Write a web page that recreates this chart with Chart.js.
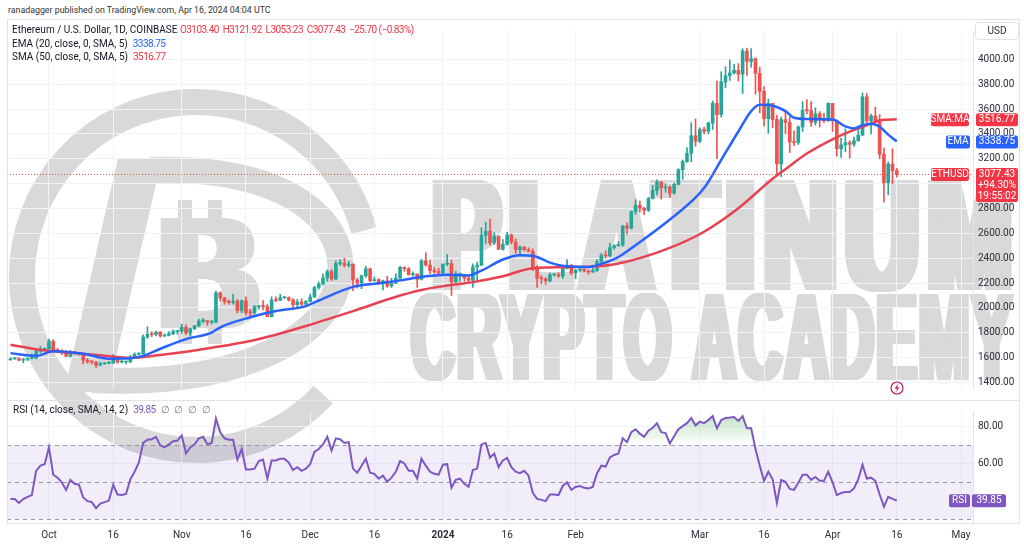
<!DOCTYPE html>
<html>
<head>
<meta charset="utf-8">
<script src="https://cdn.jsdelivr.net/npm/chart.js@4.4.1/dist/chart.umd.min.js"></script>
<style>
  body { margin: 0; background: #fff; width: 1024px; height: 547px; overflow: hidden; font-family: Roboto, "Noto Sans", sans-serif; }
  .pane { position: absolute; left: 0; width: 1024px; }
  #pricePane { top: 20px; height: 380px; }
  #rsiPane { top: 400px; height: 147px; }
  .txt { position: absolute; font-size: 10px; line-height: 12px; color: #131722; white-space: nowrap; z-index: 5; }
  .num { letter-spacing: -0.55px; }
  .red { color: #f23645; }
  .blue { color: #2962ff; }
  .purple { color: #7e57c2; }
  .grey { color: #787b86; }
  .line { position: absolute; background: #e0e3eb; z-index: 4; }
</style>
</head>
<body>

<div class="txt" style="left:8px;top:4px;font-size:8.8px;color:#333;">ranadagger published on TradingView.com, Apr 16, 2024 04:04 UTC</div>
<div class="txt" style="left:12px;top:24px;">Ethereum / U.S. Dollar, 1D, COINBASE <span class="red num">O3103.40 &nbsp;H3121.92 &nbsp;L3053.23 &nbsp;C3077.43 &nbsp;−25.70 (−0.83%)</span></div>
<div class="txt" style="left:12px;top:38px;">EMA (20, close, 0, SMA, 5)&nbsp; <span class="blue num">3338.75</span></div>
<div class="txt" style="left:12px;top:51px;">SMA (50, close, 0, SMA, 5)&nbsp; <span class="red num">3516.77</span></div>
<div class="txt" style="left:13px;top:404px;">RSI (14, close, SMA, 14, 2)&nbsp; <span class="purple num">39.85</span>&nbsp; <span class="grey">∅&nbsp; ∅&nbsp; ∅&nbsp; ∅</span></div>

<div class="line" style="left:7px;top:19px;width:1013px;height:1px;"></div>
<div class="line" style="left:7px;top:19px;width:1px;height:505px;"></div>
<div class="line" style="left:7px;top:400px;width:1013px;height:1px;"></div>
<div class="line" style="left:7px;top:523px;width:1013px;height:1px;"></div>
<div class="line" style="left:1019px;top:19px;width:1px;height:505px;"></div>

<div class="pane" id="pricePane"><canvas id="price"></canvas></div>
<div class="pane" id="rsiPane"><canvas id="rsi"></canvas></div>

<script>
// ---- data: daily candles, 2023-09-22 .. 2024-04-16 (index 0 = Sep 22) ----
const firstOpen = 1583;

const closes = [
  1592,1593,1580,1588,1594,1597,1652,1667,1671,
  1733,1664,1656,1647,1611,1646,1634,1633,1580,1567,1566,1540,1552,1555,1557,1599,1565,1566,1566,1605,1629,1630,1767,1788,1787,1806,1775,1780,1793,1810,1815,
  1845,1800,1833,1857,1895,1898,1886,1887,2122,2080,2052,2045,2055,1980,2058,1962,1960,2010,2013,2011,1930,2063,2062,2082,2084,2064,2027,2049,2030,2052,
  2088,2165,2193,2242,2293,2232,2358,2360,2343,2352,2225,2202,2260,2315,2220,2228,2196,2218,2176,2200,2240,2327,2316,2268,2272,2230,2380,2346,2300,2292,2282,
  2352,2356,2210,2268,2268,2241,2222,2331,2344,2585,2618,2524,2576,2472,2511,2587,2529,2468,2490,2469,2455,2312,2240,2235,2219,2267,2268,2257,2318,2344,2283,
  2305,2310,2297,2290,2301,2374,2424,2420,2486,2500,2507,2660,2642,2776,2826,2803,2786,2881,2945,3014,2966,2971,2923,2994,3112,3178,3243,3385,3340,
  3434,3421,3487,3645,3556,3817,3868,3890,3911,3880,4067,3982,4005,3886,3742,3522,3645,3516,3159,3515,3492,3335,3331,3455,3590,3587,3492,3562,3509,3506,3645,
  3505,3280,3311,3330,3317,3345,3390,3698,3505,3545,3504,3237,3007,3157,3103.4,3077.43
];

const highs = [
  1600,1598,1601,1594,1598,1630,1665,1690,1680,
  1750,1745,1674,1665,1660,1660,1650,1640,1635,1595,1575,1568,1565,1562,1570,1625,1605,1580,1572,1620,1640,1640,1785,1850,1810,1815,1810,1790,1810,1825,1820,
  1870,1865,1838,1860,1910,1915,1900,1900,2135,2130,2085,2065,2110,2070,2065,2090,1990,2020,2020,2060,2030,2090,2090,2110,2090,2090,2075,2070,2075,2060,
  2110,2175,2210,2275,2305,2310,2380,2390,2400,2375,2355,2240,2265,2335,2320,2250,2235,2225,2255,2240,2275,2335,2330,2325,2290,2275,2390,2445,2385,2325,2320,
  2355,2430,2385,2295,2280,2270,2260,2355,2370,2645,2690,2715,2605,2580,2550,2610,2595,2555,2500,2495,2485,2475,2340,2260,2245,2280,2275,2285,2325,2390,2350,
  2310,2325,2315,2305,2345,2390,2440,2460,2520,2505,2535,2665,2685,2780,2870,2860,2810,2890,2985,3030,3015,3000,2985,3005,3120,3190,3290,3490,3520,
  3450,3455,3495,3665,3825,3900,3940,3995,3960,3965,4085,4090,4085,4010,3935,3780,3680,3645,3550,3535,3590,3540,3425,3465,3660,3675,3660,3610,3580,3565,3650,
  3645,3510,3365,3440,3345,3375,3455,3730,3725,3560,3615,3555,3285,3175,3280,3121.92
];

const lows = [
  1580,1586,1576,1560,1575,1590,1590,1640,1660,
  1668,1650,1640,1625,1610,1605,1628,1620,1550,1555,1550,1522,1535,1547,1550,1555,1555,1558,1550,1560,1600,1620,1630,1755,1770,1775,1765,1770,1775,1785,1790,
  1795,1785,1775,1825,1850,1880,1860,1870,1880,2055,2030,2030,2030,1960,1960,1940,1930,1950,1990,1985,1930,1930,2050,2060,2075,2055,1990,2010,2020,2030,
  2050,2085,2150,2185,2215,2220,2230,2340,2330,2330,2140,2160,2155,2245,2210,2215,2190,2145,2165,2165,2195,2230,2295,2265,2255,2165,2225,2335,2275,2280,2265,
  2265,2340,2100,2205,2215,2215,2210,2165,2220,2340,2520,2505,2510,2470,2465,2505,2515,2440,2420,2460,2450,2300,2165,2195,2190,2210,2255,2245,2235,2315,2265,
  2235,2290,2290,2270,2285,2295,2355,2405,2410,2470,2495,2495,2595,2635,2750,2770,2750,2775,2875,2910,2875,2930,2890,2915,2990,3035,3170,3175,3300,
  3330,3400,3400,3435,3200,3535,3770,3830,3880,3825,3725,3870,3935,3720,3570,3465,3405,3450,3060,3055,3400,3250,3305,3315,3420,3560,3460,3470,3455,3490,3500,
  3420,3220,3210,3255,3205,3300,3340,3385,3490,3400,3490,3200,2850,2910,3000,3053.23
];

// EMA 20 / SMA 50 at these day indexes
const emaDays = [0,6,10,17,23,28,31,35,41,47,49,56,62,69,72,80,86,91,97,102,107,110,115,119,122,126,130,135,138,142,146,154,162,166,170,173,175,178,181,183,186,192,195,197,199,201,203,205,207];
const emaValues = [1637,1615,1652,1632,1592,1595,1615,1672,1750,1802,1845,1925,1975,2015,2060,2170,2198,2222,2255,2268,2262,2300,2390,2425,2420,2365,2335,2330,2355,2410,2505,2711,2964,3191,3419,3583,3634,3627,3583,3530,3520,3515,3460,3444,3470,3482,3457,3394,3338.75];

const smaDays = [0,6,10,17,23,28,35,41,47,56,62,69,80,91,96,102,108,115,122,135,142,154,162,170,178,181,186,192,197,201,203,207];
const smaValues = [1705,1668,1652,1632,1612,1600,1622,1648,1680,1735,1785,1855,1975,2100,2145,2180,2208,2255,2320,2332,2358,2484,2613,2802,3040,3116,3242,3356,3432,3482,3510,3516.77];

// RSI(14), one value per day
const rsiValues = [
  40.7,40.7,38.6,40.7,41.9,42.9,56,58.8,59.6,
  68.7,53.9,52.3,49.8,45.7,51.1,49,48.5,41.6,39.6,39.1,35.8,38.3,39.1,39.9,48.5,43.2,42.9,43.5,51.4,55.5,60.5,71.1,72.8,73.1,74.4,69.8,68.7,70.3,72,72.4,
  75.2,65.4,68.7,70.3,73.6,74.4,70.3,71.1,84.3,76.9,73.6,72.8,72.8,62.1,67.8,56.7,56.7,57.2,61.3,62.1,51.8,61.6,61.6,62.6,62.6,60.5,56.4,58,56,57.2,
  59.6,66.2,67.8,70.3,74.4,67,73.6,73.1,71.1,71.5,57.2,55,58.8,62.6,55,54.4,51.8,53.4,50.1,52.3,55.5,61.3,60,56,56,51.8,62.6,58.8,55.5,54.4,53.9,
  59.3,59.6,46.8,51.1,51.8,49,47.3,56.4,57.2,70.3,71.1,63.2,65.4,58,61.6,63,58,55.5,54.7,56,53.4,44,40.8,40.3,39.6,43.2,43.2,42.9,47.8,49.8,45.7,
  47.3,47.8,46.8,46.5,47.3,54.7,58.8,58.3,63.3,64.6,65.4,73.6,71.5,76.9,78.5,76.1,74.4,77.7,79.3,81.8,76.9,76.4,70.8,74.7,78.5,80.2,81.8,84.6,80.6,
  82.6,81.8,83.5,85.6,79,83.5,84.6,84.8,85.1,83,85.6,79,79,67.8,58.8,50.6,55.5,51.4,38.6,51.1,50.1,46.2,45.7,49.5,53.9,53.9,51.1,52.7,50.6,50.6,55.5,
  49.8,42.9,44,44.5,44.5,46.5,51.4,59.3,51.8,52.3,50.6,43.2,36.6,41.9,40.8,39.85
];

const tickDays = [9,24,40,55,70,85,101,116,132,161,176,192,207,222];
const tickLabels = ["Oct","16","Nov","16","Dec","16","2024","16","Feb","Mar","16","Apr","16","May"];

const lastClose = 3077.43, emaLast = 3338.75, smaLast = 3516.77;

// ---- styling ----
const UP = '#26a69a', DOWN = '#ef5350';
const GRID = '#f0f3fa', AXIS_TXT = '#2a2e39';
const WM = '#d9d9d9';
const X_MIN = -0.8, X_MAX = 224.8;

Chart.defaults.font.family = 'Roboto';

const opens = closes.map((c, i) => i ? closes[i - 1] : firstOpen); // daily open = prior close
const candleColors = closes.map((c, i) => c >= opens[i] ? UP : DOWN);

/* ========================================
   WATERMARK (page coords)
======================================== */
// heavy condensed lettering: fit text in a box and fatten it sideways
function fitText(ctx, text, x, top, w, h, spacing, bold) {
  ctx.save();
  ctx.font = 'bold 100px "Liberation Sans"';
  if ('letterSpacing' in ctx) ctx.letterSpacing = spacing + 'px';
  ctx.textAlign = 'left';
  ctx.textBaseline = 'alphabetic';
  const m = ctx.measureText(text);
  const tw = m.actualBoundingBoxRight + m.actualBoundingBoxLeft + bold;
  const th = m.actualBoundingBoxAscent;
  ctx.translate(x, top + h);
  ctx.scale(w / tw, h / th);
  for (let dx = 0; dx <= bold; dx += 1) ctx.fillText(text, m.actualBoundingBoxLeft + dx, 0);
  ctx.restore();
}

function drawWatermark(chart, paneTop) {
  const ctx = chart.ctx;
  ctx.save();
  ctx.beginPath();
  ctx.rect(7, 0, 1013, chart.height);
  ctx.clip();
  ctx.translate(0, -paneTop);
  ctx.fillStyle = WM;
  ctx.strokeStyle = WM;

  ctx.lineWidth = 26;
  ctx.beginPath();
  ctx.arc(196, 276, 174, 0.75, 6.02);
  ctx.stroke();

  ctx.beginPath();
  ctx.moveTo(118, 158); ctx.lineTo(162, 158); ctx.lineTo(108, 392); ctx.lineTo(64, 392);
  ctx.closePath();
  ctx.fill();

  ctx.lineWidth = 26;
  ctx.beginPath();
  ctx.moveTo(150, 170);
  ctx.bezierCurveTo(420, 160, 405, 395, 92, 380);
  ctx.stroke();

  fitText(ctx, 'B', 160, 218, 100, 110, 0, 14);
  ctx.fillRect(178, 200, 14, 22);
  ctx.fillRect(208, 200, 14, 22);
  ctx.fillRect(178, 324, 14, 20);
  ctx.fillRect(208, 324, 14, 20);

  fitText(ctx, 'PLATINUM', 432, 178, 580, 112, 10, 14);
  fitText(ctx, 'CRYPTO ACADEMY', 410, 293, 605, 87, 4, 12);
  ctx.restore();
}

function tag(ctx, x, y, w, h, bg, lines) {
  ctx.fillStyle = bg;
  ctx.beginPath();
  ctx.roundRect(x, y, w, h, 2);
  ctx.fill();
  ctx.fillStyle = '#fff';
  ctx.font = '10px Roboto';
  ctx.textAlign = 'center';
  ctx.textBaseline = 'middle';
  lines.forEach((t, k) => ctx.fillText(t, x + w / 2, y + 6.5 + k * 11));
}

/* ========================================
   PRICE PANE
======================================== */
const pricePlugin = {
  id: 'priceExtras',
  beforeDraw(chart) { drawWatermark(chart, 20); },
  afterDatasetsDraw(chart) {
    const { ctx, chartArea: a, scales: { y } } = chart;
    const py = Math.round(y.getPixelForValue(lastClose)) + 0.5;
    ctx.save();
    ctx.strokeStyle = DOWN;
    ctx.lineWidth = 1;
    ctx.setLineDash([1, 2]);
    ctx.beginPath();
    ctx.moveTo(a.left, py); ctx.lineTo(a.right, py);
    ctx.stroke();
    ctx.restore();
  },
  afterDraw(chart) {
    const { ctx, scales: { y } } = chart;
    ctx.save();
    // USD box
    ctx.fillStyle = '#fff';
    ctx.strokeStyle = '#e0e3eb';
    ctx.beginPath(); ctx.roundRect(975.5, 2.5, 43, 17, 3); ctx.fill(); ctx.stroke();
    ctx.fillStyle = AXIS_TXT;
    ctx.font = '10px Roboto'; ctx.textAlign = 'center'; ctx.textBaseline = 'middle';
    ctx.fillText('USD', 997, 11.5);

    const ys = y.getPixelForValue(smaLast);
    tag(ctx, 931, ys - 6, 38, 13, '#f23645', ['SMA:MA']);
    tag(ctx, 976, ys - 6, 42, 13, '#f23645', [smaLast.toFixed(2)]);
    const ye = y.getPixelForValue(emaLast);
    tag(ctx, 946, ye - 6, 24, 13, '#2962ff', ['EMA']);
    tag(ctx, 976, ye - 6, 42, 13, '#2962ff', [emaLast.toFixed(2)]);
    const yp = y.getPixelForValue(lastClose);
    tag(ctx, 931, yp - 6, 38, 13, '#f23645', ['ETHUSD']);
    tag(ctx, 976, yp - 6, 42, 34, '#f23645', [lastClose.toFixed(2), '+94.30%', '19:55:02']);

    // events icon
    ctx.strokeStyle = '#c2185b';
    ctx.lineWidth = 1.2;
    ctx.beginPath(); ctx.arc(897, 368, 6, 0, Math.PI * 2); ctx.stroke();
    ctx.fillStyle = '#c2185b';
    ctx.beginPath();
    ctx.moveTo(898.5, 363.5); ctx.lineTo(894.5, 368.5); ctx.lineTo(897, 368.5);
    ctx.lineTo(895.5, 372.5); ctx.lineTo(899.5, 367.2); ctx.lineTo(897, 367.2);
    ctx.closePath(); ctx.fill();
    ctx.restore();
  }
};

new Chart(document.getElementById('price'), {
  type: 'bar',
  data: {
    datasets: [
      {
        type: 'line', label: 'EMA 20',
        data: emaDays.map((d, k) => ({ x: d, y: emaValues[k] })),
        borderColor: '#2962ff', borderWidth: 2.5, pointRadius: 0,
        cubicInterpolationMode: 'monotone', order: 0
      },
      {
        type: 'line', label: 'SMA 50',
        data: smaDays.map((d, k) => ({ x: d, y: smaValues[k] })),
        borderColor: '#e8414f', borderWidth: 2.5, pointRadius: 0,
        cubicInterpolationMode: 'monotone', order: 0
      },
      {
        label: 'body',
        data: closes.map((c, i) => ({ x: i, y: [opens[i], c] })),
        backgroundColor: candleColors, barThickness: 3, minBarLength: 1,
        grouped: false, order: 1
      },
      {
        label: 'wick',
        data: closes.map((c, i) => ({ x: i, y: [lows[i], highs[i]] })),
        backgroundColor: candleColors, barThickness: 1,
        grouped: false, order: 2
      }
    ]
  },
  options: {
    responsive: true,
    maintainAspectRatio: false,
    animation: false,
    layout: { padding: { left: 7, right: 0, top: 0, bottom: 0 } },
    plugins: { legend: { display: false }, tooltip: { enabled: false } },
    scales: {
      x: {
        type: 'linear', min: X_MIN, max: X_MAX, offset: false,
        afterBuildTicks: s => { s.ticks = tickDays.map(v => ({ value: v })); },
        ticks: { display: false },
        grid: { color: GRID, drawTicks: false, offset: false },
        border: { display: false },
        afterFit: s => { s.height = 0; }
      },
      y: {
        position: 'right', min: 1348.5, max: 4227.3,
        ticks: {
          stepSize: 200, includeBounds: false, padding: 5,
          color: AXIS_TXT, font: { size: 10 },
          callback: v => v > 4100 ? null : v.toFixed(2)
        },
        grid: { color: GRID, drawTicks: false },
        border: { display: true, color: '#e0e3eb' },
        afterFit: s => { s.width = 51; }
      }
    }
  },
  plugins: [pricePlugin]
});

/* ========================================
   RSI PANE
======================================== */
const rsiPlugin = {
  id: 'rsiExtras',
  beforeDraw(chart) { drawWatermark(chart, 400); },
  beforeDatasetsDraw(chart) {
    const { ctx, chartArea: a, scales: { y } } = chart;
    const y70 = y.getPixelForValue(70), y50 = y.getPixelForValue(50), y30 = y.getPixelForValue(30);
    ctx.save();
    ctx.fillStyle = 'rgba(126,87,194,0.1)';
    ctx.fillRect(a.left, y70, a.right - a.left, y30 - y70);
    ctx.strokeStyle = '#9598a1';
    ctx.lineWidth = 1;
    ctx.setLineDash([4, 4]);
    [y70, y50, y30].forEach(v => {
      const p = Math.round(v) + 0.5;
      ctx.beginPath(); ctx.moveTo(a.left, p); ctx.lineTo(a.right, p); ctx.stroke();
    });
    ctx.restore();
  },
  afterDraw(chart) {
    const { ctx, scales: { y } } = chart;
    const yr = y.getPixelForValue(39.85);
    ctx.save();
    tag(ctx, 949, yr - 6.5, 21, 13, '#7e57c2', ['RSI']);
    tag(ctx, 972, yr - 6.5, 34, 13, '#7e57c2', ['39.85']);
    ctx.restore();
  }
};

const rsiChart = new Chart(document.getElementById('rsi'), {
  type: 'line',
  data: {
    datasets: [{
      label: 'RSI',
      data: rsiValues.map((v, i) => ({ x: i, y: v })),
      borderColor: '#7e57c2', borderWidth: 2, pointRadius: 0, tension: 0,
      fill: { target: { value: 70 }, above: 'rgba(76,175,80,0.25)', below: 'rgba(0,0,0,0)' }
    }]
  },
  options: {
    responsive: true,
    maintainAspectRatio: false,
    animation: false,
    layout: { padding: { left: 7, right: 0, top: 0, bottom: 0 } },
    plugins: { legend: { display: false }, tooltip: { enabled: false } },
    scales: {
      x: {
        type: 'linear', min: X_MIN, max: X_MAX, offset: false,
        afterBuildTicks: s => { s.ticks = tickDays.map(v => ({ value: v })); },
        ticks: {
          autoSkip: false, maxRotation: 0, padding: 6, color: AXIS_TXT,
          font: c => ({ size: 10, weight: c.tick && c.tick.value === 101 ? 'bold' : 'normal' }),
          callback: v => tickLabels[tickDays.indexOf(v)]
        },
        grid: { color: GRID, drawTicks: false, offset: false },
        border: { display: false },
        afterFit: s => { s.height = 24; }
      },
      y: {
        position: 'right', min: 27.78, max: 88.37,
        ticks: {
          stepSize: 20, includeBounds: false, padding: 5,
          color: AXIS_TXT, font: { size: 10 },
          callback: v => v === 40 ? null : v.toFixed(2)
        },
        grid: { color: GRID, drawTicks: false },
        border: { display: true, color: '#e0e3eb' },
        afterFit: s => { s.width = 51; }
      }
    }
  },
  plugins: [rsiPlugin]
});

// overbought gradient (green fading to the 70 line)
{
  const y = rsiChart.scales.y;
  const g = rsiChart.ctx.createLinearGradient(0, y.getPixelForValue(100), 0, y.getPixelForValue(70));
  g.addColorStop(0, 'rgba(76,175,80,0.65)');
  g.addColorStop(1, 'rgba(76,175,80,0)');
  rsiChart.data.datasets[0].fill = { target: { value: 70 }, above: g, below: 'rgba(0,0,0,0)' };
  rsiChart.update('none');
}
</script>
</body>
</html>
